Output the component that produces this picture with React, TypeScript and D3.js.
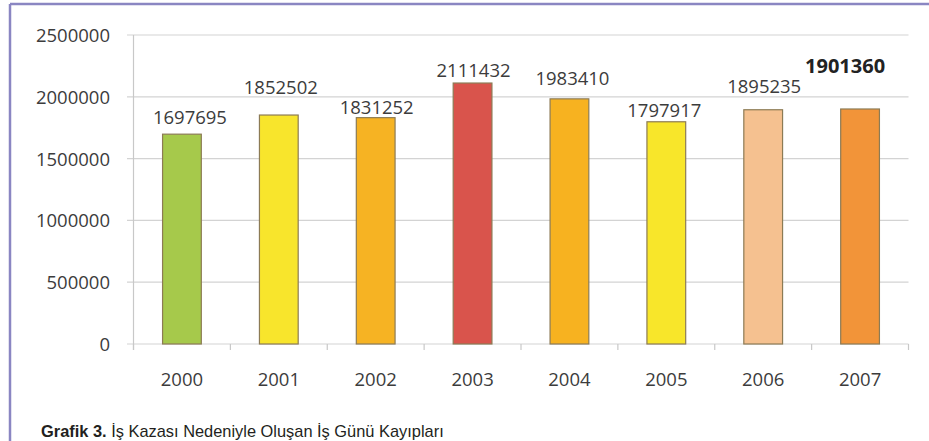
import React from 'react';
import * as d3 from 'd3';

const years = ['2000', '2001', '2002', '2003', '2004', '2005', '2006', '2007'];
const lostDays = [1697695, 1852502, 1831252, 2111432, 1983410, 1797917, 1895235, 1901360];
const barColors = ['#a6c94b', '#f8e52c', '#f6b323', '#d9544c', '#f7b220', '#f8e62a', '#f5c190', '#f29439'];
const yTicks = [0, 500000, 1000000, 1500000, 2000000, 2500000];

// hand-placed label nudges (px above bar top, px from bar centre), as in the source
const labelLift = [10, 21, 4, 6, 14, 5, 17, 36];
const labelShift = [8, 2, 1, 1, 3, -2, 1, -15];
const boldIndex = 7;

const W = 929;
const H = 441;
const font = '"Open Sans", sans-serif';

const App: React.FC = () => {
    const x = d3.scaleBand<string>()
        .domain(years)
        .range([133.5, 908.5])
        .paddingInner(0.6)
        .paddingOuter(0.3);
    const y = d3.scaleLinear().domain([0, 2500000]).range([344, 35]);

    const step = x.step();
    const gap = step - x.bandwidth();
    const bounds = years.map(c => (x(c) as number) - gap / 2).concat([x.range()[1]]);

    return (
        <div style={{ position: 'absolute', left: 0, top: 0 }}>
            <svg width={W} height={H} style={{ display: 'block', background: '#fff' }}>
                {/* frame */}
                <line x1={10} y1={4} x2={W} y2={4} stroke="#8a86c2" strokeWidth={2.5} />
                <line x1={10} y1={4} x2={10} y2={H} stroke="#8a86c2" strokeWidth={2.5} />

                {/* grid + y labels */}
                {yTicks.map(t => (
                    <g key={t}>
                        <line x1={127} x2={908.5} y1={y(t)} y2={y(t)} stroke="#d3d3d3" strokeWidth={1.2} />
                        <text x={110} y={y(t) + 7} textAnchor="end" fontFamily={font} fontSize={18.5} fill="#3c3c3c">
                            {t}
                        </text>
                    </g>
                ))}
                <line x1={133.5} x2={133.5} y1={y(2500000)} y2={350} stroke="#c8c8c8" strokeWidth={1.2} />
                {bounds.map((b, i) => (
                    <line key={i} x1={b} x2={b} y1={344} y2={350} stroke="#c8c8c8" strokeWidth={1.2} />
                ))}

                {/* bars */}
                {years.map((c, i) => (
                    <rect key={c}
                        x={x(c)}
                        y={y(lostDays[i])}
                        width={x.bandwidth()}
                        height={y(0) - y(lostDays[i])}
                        fill={barColors[i]}
                        stroke="#8c7b55"
                        strokeWidth={1.2} />
                ))}

                {/* value labels */}
                {years.map((c, i) => (
                    <text key={c}
                        x={(x(c) as number) + x.bandwidth() / 2 + labelShift[i]}
                        y={y(lostDays[i]) - labelLift[i]}
                        textAnchor="middle"
                        fontFamily={font}
                        fontSize={i === boldIndex ? 20 : 18.5}
                        fontWeight={i === boldIndex ? 700 : 400}
                        fill={i === boldIndex ? '#222' : '#3c3c3c'}>
                        {lostDays[i]}
                    </text>
                ))}

                {/* year labels */}
                {years.map(c => (
                    <text key={c}
                        x={(x(c) as number) + x.bandwidth() / 2}
                        y={386}
                        textAnchor="middle"
                        fontFamily={font}
                        fontSize={18.5}
                        fill="#3c3c3c">
                        {c}
                    </text>
                ))}

                {/* caption */}
                <text x={41} y={437} fontFamily='"Liberation Sans", Arial, sans-serif' fontSize={16.4} fill="#231f20">
                    <tspan fontWeight={700}>Grafik 3.</tspan>
                    <tspan> İş Kazası Nedeniyle Oluşan İş Günü Kayıpları</tspan>
                </text>
            </svg>
        </div>
    );
};

export default App;
